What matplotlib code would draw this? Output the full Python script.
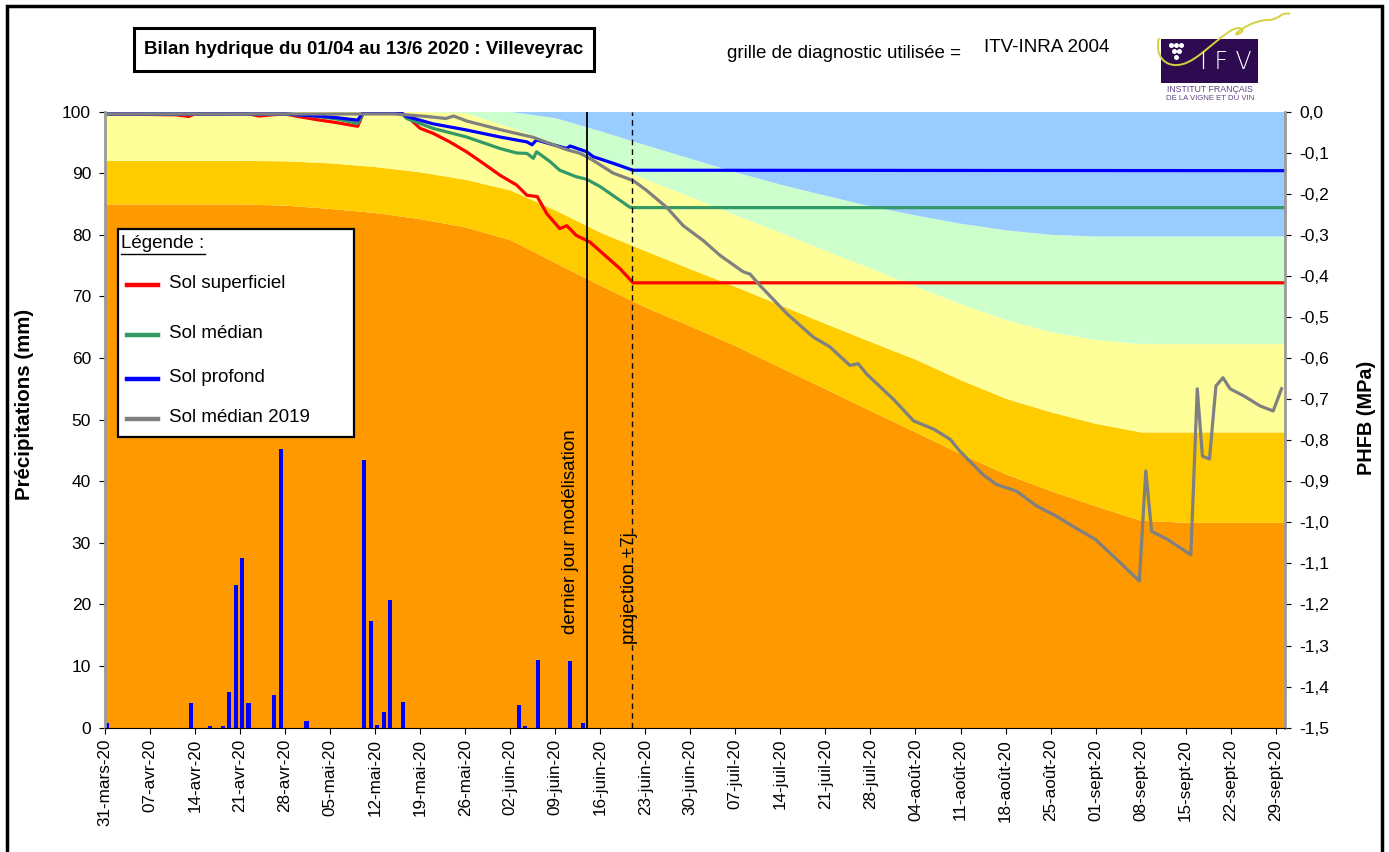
import matplotlib
matplotlib.use("Agg")
import matplotlib.pyplot as plt
from matplotlib.patches import Rectangle, PathPatch
from matplotlib.lines import Line2D
from matplotlib.path import Path

plt.rcParams['font.family'] = ['Liberation Sans', 'DejaVu Sans']

W, H = 1389, 852

# ---------------- donnees (jours depuis le 31/03/2020) ----------------
etiquettes_dates = ['31-mars-20', '07-avr-20', '14-avr-20', '21-avr-20', '28-avr-20',
                    '05-mai-20', '12-mai-20', '19-mai-20', '26-mai-20', '02-juin-20',
                    '09-juin-20', '16-juin-20', '23-juin-20', '30-juin-20', '07-juil-20',
                    '14-juil-20', '21-juil-20', '28-juil-20', '04-août-20', '11-août-20',
                    '18-août-20', '25-août-20', '01-sept-20', '08-sept-20', '15-sept-20',
                    '22-sept-20', '29-sept-20']
jours_ticks = list(range(0, 183, 7))

etiquettes_phfb = ['0,0', '-0,1', '-0,2', '-0,3', '-0,4', '-0,5', '-0,6', '-0,7',
                   '-0,8', '-0,9', '-1,0', '-1,1', '-1,2', '-1,3', '-1,4', '-1,5']
ticks_phfb = [0, -0.1, -0.2, -0.3, -0.4, -0.5, -0.6, -0.7, -0.8, -0.9,
              -1.0, -1.1, -1.2, -1.3, -1.4, -1.5]

# pluie journaliere (mm)
pluie_jours = [0, 13, 16, 18, 19, 20, 21, 22, 26, 27, 31, 40, 41, 42, 43, 44, 46,
               64, 65, 67, 72, 74]
pluie_mm = [0.7, 4.0, 0.3, 0.3, 5.8, 23.2, 27.6, 4.0, 5.3, 45.3, 1.1, 43.5, 17.3,
            0.5, 2.6, 20.7, 4.2, 3.7, 0.3, 11.0, 10.8, 0.7]

# grille ITV-INRA 2004 : seuils de PHFB (MPa)
jours_grille = [0, 7, 14, 21, 28, 35, 42, 49, 56, 63, 70, 77, 84, 91, 98, 105, 112,
                119, 126, 133, 140, 147, 154, 161, 168, 175, 182, 183.5]
seuil_1 = [-0.225, -0.225, -0.225, -0.225, -0.228, -0.236, -0.246, -0.261, -0.281,
           -0.312, -0.368, -0.423, -0.476, -0.522, -0.570, -0.623, -0.675, -0.728,
           -0.780, -0.833, -0.882, -0.923, -0.960, -0.995, -1.0, -1.0, -1.0, -1.0]
seuil_2 = [-0.119, -0.119, -0.119, -0.119, -0.120, -0.125, -0.134, -0.147, -0.165,
           -0.191, -0.240, -0.294, -0.339, -0.383, -0.426, -0.471, -0.516, -0.560,
           -0.603, -0.653, -0.698, -0.731, -0.759, -0.780, -0.780, -0.780, -0.780, -0.780]
seuil_3 = [0, 0, 0, 0, 0, 0, 0, 0, -0.003, -0.038, -0.077, -0.119, -0.164, -0.207,
           -0.251, -0.294, -0.338, -0.381, -0.425, -0.468, -0.506, -0.536, -0.555,
           -0.565, -0.565, -0.565, -0.565, -0.565]
seuil_4 = [0, 0, 0, 0, 0, 0, 0, 0, 0, 0, -0.015, -0.047, -0.081, -0.114, -0.147,
           -0.177, -0.204, -0.230, -0.252, -0.272, -0.288, -0.299, -0.303, -0.303,
           -0.303, -0.303, -0.303, -0.303]

# PHFB simule (MPa)
jours_sup = [0, 11, 13, 14, 22, 24, 26, 28, 30, 33, 36, 39.3, 40.2, 46, 47, 49, 51,
             53.6, 56.2, 58.8, 61.4, 64, 65.6, 67.2, 68.7, 70.7, 71.8, 73.3, 74.9,
             75.4, 78, 80.1, 82.1, 183.5]
phfb_sup = [-0.006, -0.008, -0.012, -0.006, -0.005, -0.011, -0.008, -0.006, -0.012,
            -0.020, -0.027, -0.036, -0.002, -0.003, -0.012, -0.041, -0.053, -0.074,
            -0.098, -0.126, -0.155, -0.179, -0.204, -0.207, -0.249, -0.285, -0.278,
            -0.302, -0.314, -0.318, -0.354, -0.383, -0.417, -0.417]

jours_med = [0, 28, 33, 36, 39.3, 40.2, 46, 46.9, 51, 56.2, 61.4, 64, 65.6, 66.6,
             67.1, 69.2, 70.7, 73.3, 74.9, 77, 81.6, 82.1, 183.5]
phfb_med = [-0.006, -0.006, -0.012, -0.018, -0.029, -0.002, -0.003, -0.017, -0.041,
            -0.062, -0.090, -0.101, -0.102, -0.114, -0.098, -0.122, -0.143, -0.159,
            -0.165, -0.183, -0.233, -0.234, -0.234]

jours_prof = [0, 28, 33, 36, 39.3, 40.2, 46, 46.9, 51, 56.2, 61.4, 65.6, 66.4, 67.1,
              69, 71.8, 72.3, 74.9, 75.9, 79, 82.1, 183.5]
phfb_prof = [-0.006, -0.006, -0.011, -0.015, -0.021, 0.0, -0.003, -0.012, -0.030,
             -0.045, -0.062, -0.074, -0.081, -0.069, -0.078, -0.090, -0.084, -0.098,
             -0.110, -0.126, -0.143, -0.144]

jours_2019 = [0, 45, 50, 53, 54.2, 56.2, 61.4, 66.6, 69.2, 71.8, 73.9, 75.9, 79,
              82.1, 84.2, 87.3, 89.9, 93, 95.6, 99.2, 100.3, 101.8, 106, 110.1, 112.7,
              115.8, 117.1, 118.4, 122.6, 125.7, 128.8, 131.4, 132.9, 136.5, 138.6,
              141.7, 144.8, 148, 150.5, 153.9, 156.8, 160.8, 161.8, 162.7, 165.1,
              168.8, 169.8, 170.6, 171.7, 172.7, 173.8, 174.9, 177, 179.6, 181.6, 182.9]
phfb_2019 = [-0.006, -0.006, -0.012, -0.017, -0.011, -0.023, -0.044, -0.063, -0.078,
             -0.093, -0.102, -0.119, -0.150, -0.168, -0.192, -0.233, -0.278, -0.314,
             -0.350, -0.390, -0.396, -0.423, -0.492, -0.549, -0.573, -0.618, -0.614,
             -0.639, -0.701, -0.753, -0.773, -0.798, -0.827, -0.884, -0.908, -0.924,
             -0.960, -0.986, -1.010, -1.041, -1.083, -1.143, -0.875, -1.022, -1.041,
             -1.079, -0.675, -0.839, -0.846, -0.668, -0.648, -0.675, -0.692, -0.717,
             -0.729, -0.675]

series = [('Sol superficiel', jours_sup, phfb_sup, '#FF0000'),
          ('Sol médian', jours_med, phfb_med, '#339966'),
          ('Sol profond', jours_prof, phfb_prof, '#0000FF'),
          ('Sol médian 2019', jours_2019, phfb_2019, '#808080')]

dernier_jour = 74        # 13/06
projection_jours = 7


def fx(x):
    return x / W


def fy(y):
    return 1 - y / H


fig = plt.figure(figsize=(W / 100, H / 100), dpi=100)
ax = fig.add_axes([fx(104.9), fy(727.7), (1285.4 - 104.9) / W, (727.7 - 111.5) / H])
ax2 = ax.twinx()
ax.set_zorder(ax2.get_zorder() + 1)
ax.patch.set_visible(False)

# zones de contrainte hydrique
ax2.fill_between(jours_grille, -1.5, seuil_1, color='#FF9900', lw=0)
ax2.fill_between(jours_grille, seuil_1, seuil_2, color='#FFCC00', lw=0)
ax2.fill_between(jours_grille, seuil_2, seuil_3, color='#FFFF99', lw=0)
ax2.fill_between(jours_grille, seuil_3, seuil_4, color='#CCFFCC', lw=0)
ax2.fill_between(jours_grille, seuil_4, 0, color='#99CCFF', lw=0)

for nom, j, v, c in series:
    ax2.plot(j, v, color=c, lw=2.3, solid_joinstyle='round')

ax.bar(pluie_jours, pluie_mm, width=0.65, align='edge', color='#0000FF', lw=0)

x_fin = dernier_jour + 1
ax.axvline(x_fin, color='black', lw=1.3)
ax.axvline(x_fin + projection_jours, color='black', lw=1.0, ls=(0, (4, 3)))
ax.text(x_fin - 2.55, 31.8, 'dernier jour modélisation', rotation=90,
        ha='center', va='center', fontsize=13.5)
ax.text(x_fin + projection_jours - 0.45, 22.7, 'projection +7j', rotation=90,
        ha='center', va='center', fontsize=13.5)

ax.set_xlim(0, 183.5)
ax.set_ylim(0, 100)
ax2.set_ylim(-1.5, 0)
ax.set_xticks(jours_ticks)
ax.set_xticklabels(etiquettes_dates, rotation=90, fontsize=12.3)
ax.set_yticks(range(0, 101, 10))
ax.tick_params(axis='y', labelsize=12.5, length=4, pad=6)
ax.tick_params(axis='x', length=4, pad=4)
ax2.set_yticks(ticks_phfb)
ax2.set_yticklabels(etiquettes_phfb)
ax2.tick_params(axis='y', labelsize=12.5, length=4, pad=6)

for a in (ax, ax2):
    a.spines['top'].set_visible(False)
ax.spines['right'].set_visible(False)
ax2.spines['left'].set_visible(False)
ax2.spines['bottom'].set_visible(False)
ax.spines['left'].set_color('#9A9A9A')
ax.spines['left'].set_linewidth(2)
ax2.spines['right'].set_color('#9A9A9A')
ax2.spines['right'].set_linewidth(2)
ax.spines['bottom'].set_linewidth(0.8)

fig.text(fx(25), fy(404), 'Précipitations (mm)', rotation=90, ha='center', va='center',
         fontsize=14.8, fontweight='bold')
fig.text(fx(1366), fy(418), 'PHFB (MPa)', rotation=90, ha='center', va='center',
         fontsize=14.3, fontweight='bold')

# cadre general
fig.add_artist(Rectangle((fx(7), fy(860)), (1382 - 7) / W, (860 - 6) / H,
                         transform=fig.transFigure, fill=False, ec='black', lw=2.5))

# titre
fig.add_artist(Rectangle((fx(134), fy(71)), (594 - 134) / W, (71 - 28) / H,
                         transform=fig.transFigure, fill=False, ec='black', lw=2.2))
fig.text(fx(364), fy(50), 'Bilan hydrique du 01/04 au 13/6 2020 : Villeveyrac',
         ha='center', va='center', fontsize=13.5, fontweight='bold')
fig.text(fx(727), fy(53), 'grille de diagnostic utilisée =', ha='left', va='center',
         fontsize=13.5)
fig.text(fx(984), fy(48), 'ITV-INRA 2004', ha='left', va='center', fontsize=13.5)

# logo IFV
violet = '#2E0B50'
fig.add_artist(Rectangle((fx(1161), fy(83)), 97 / W, 44 / H, transform=fig.transFigure,
                         fc=violet, ec='none'))
fig.text(fx(1226), fy(62), 'I F V', color='white', ha='center', va='center',
         fontsize=17, fontweight='light', family='DejaVu Sans')
fig.add_artist(Line2D([fx(v) for v in (1171, 1176, 1181, 1173.5, 1178.5, 1176)],
                      [fy(v) for v in (45, 45, 45, 51, 51, 57)],
                      transform=fig.transFigure, ls='none', marker='o', ms=3.6,
                      color='white', mec='none'))
pts = [(1159, 38), (1154, 56), (1166, 69), (1183, 64),
       (1198, 60), (1215, 40), (1232, 30),
       (1241, 25), (1247, 31), (1238, 34),
       (1230, 37), (1250, 20), (1268, 20),
       (1279, 20), (1282, 11), (1290, 14)]
codes = [Path.MOVETO] + [Path.CURVE4] * 15
fig.add_artist(PathPatch(Path([(fx(a), fy(b)) for a, b in pts], codes),
                         transform=fig.transFigure, fill=False, ec='#D2D23C', lw=1.4))
fig.text(fx(1210), fy(89), 'INSTITUT FRANÇAIS', color='#5E4585', ha='center',
         va='center', fontsize=6.3)
fig.text(fx(1210), fy(98), 'DE LA VIGNE ET DU VIN', color='#5E4585', ha='center',
         va='center', fontsize=5.6)

# legende
fig.add_artist(Rectangle((fx(118), fy(437)), (354 - 118) / W, (437 - 229) / H,
                         transform=fig.transFigure, fc='white', ec='black', lw=1.6))
fig.text(fx(121), fy(244), 'Légende :', ha='left', va='center', fontsize=13.5)
fig.add_artist(Line2D([fx(121), fx(205)], [fy(254), fy(254)], transform=fig.transFigure,
                      color='black', lw=1))
for (nom, j, v, c), ypix in zip(series, [285, 335, 379, 419]):
    fig.add_artist(Line2D([fx(127), fx(158)], [fy(ypix), fy(ypix)],
                          transform=fig.transFigure, color=c, lw=3.2))
    fig.text(fx(169), fy(ypix - 2), nom, ha='left', va='center', fontsize=13.5)

fig.savefig('out.png', dpi=100)
